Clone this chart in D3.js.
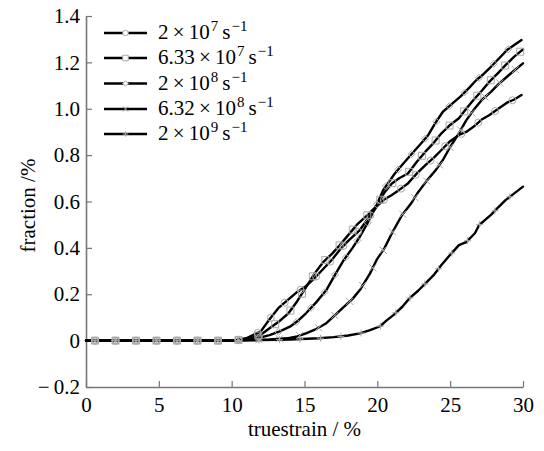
<!DOCTYPE html>
<html><head><meta charset="utf-8">
<script src="https://cdn.jsdelivr.net/npm/d3@7"></script>
<style>
html,body{margin:0;padding:0;background:#fff;}
svg{display:block;font-family:"Liberation Serif","Times New Roman",serif;}
</style></head>
<body><svg id="c" width="544" height="451"></svg>
<script>
// ---- data ----
const xTicks = [0,5,10,15,20,25,30];
const yTicks = [-0.2,0,0.2,0.4,0.6,0.8,1.0,1.2,1.4];
const yTickLabels = ["\u2212\u20090.2","0","0.2","0.4","0.6","0.8","1.0","1.2","1.4"];
const seriesNames = ["2\u2009\u00d7\u200910|7","6.33\u2009\u00d7\u200910|7","2\u2009\u00d7\u200910|8","6.32\u2009\u00d7\u200910|8","2\u2009\u00d7\u200910|9"];
const seriesMarkers = ["circle","square","diamond","x","plus"];

const s1x = [0,10,11,12,12.6,13.2,13.9,14.5,15.1,15.7,16.3,16.9,17.4,18.0,18.8,19.4,19.95,20.5,21.0,21.5,22.1,22.7,23.3,23.9,24.4,25.0,25.6,26.1,26.6,27.2,27.7,28.3,28.9,29.4,29.9];
const s1y = [0,0,0.01,0.04,0.092,0.14,0.178,0.21,0.235,0.27,0.31,0.35,0.39,0.43,0.477,0.53,0.577,0.61,0.628,0.65,0.678,0.72,0.757,0.79,0.822,0.86,0.887,0.90,0.922,0.955,0.973,1.0,1.026,1.04,1.059];

const s2x = [0,10,11,12,12.6,13.3,13.9,14.5,15.1,15.7,16.3,16.9,17.4,18.0,18.6,19.3,19.95,20.5,21.0,21.5,22.1,22.7,23.3,23.9,24.4,25.0,25.6,26.1,26.6,27.2,27.7,28.3,28.8,29.4,30];
const s2y = [0,0,0.005,0.025,0.053,0.085,0.118,0.17,0.23,0.29,0.34,0.375,0.41,0.455,0.50,0.54,0.58,0.64,0.678,0.70,0.721,0.77,0.815,0.855,0.894,0.93,0.959,1.0,1.038,1.08,1.117,1.155,1.188,1.225,1.256];

const s3x = [0,10,11,12,12.6,13.3,14.0,14.6,15.1,15.8,16.5,17.1,17.7,18.3,18.8,19.4,19.95,20.4,21.2,21.8,22.4,23.0,23.5,24.0,24.5,25.1,25.7,26.3,26.8,27.3,27.8,28.4,28.9,29.4,29.9];
const s3y = [0,0,0.005,0.014,0.024,0.04,0.06,0.088,0.118,0.165,0.218,0.285,0.348,0.40,0.448,0.515,0.585,0.649,0.721,0.765,0.808,0.85,0.887,0.94,0.987,1.02,1.052,1.09,1.124,1.15,1.181,1.22,1.253,1.275,1.296];

const s4x = [0,10,11,12.6,13.8,14.5,15.1,15.8,16.5,17.1,17.7,18.3,18.8,19.5,19.95,20.5,21.0,21.7,22.3,22.8,23.4,24.0,24.5,25.0,25.6,26.1,26.7,27.2,27.8,28.3,28.9,29.4,30];
const s4y = [0,0,0.002,0.005,0.01,0.018,0.031,0.05,0.075,0.11,0.146,0.18,0.218,0.29,0.348,0.40,0.463,0.542,0.59,0.64,0.69,0.735,0.779,0.835,0.894,0.95,1.002,1.04,1.073,1.105,1.138,1.165,1.196];

const s5x = [0,10,12,14,16,17,18,18.8,19.5,20.2,20.6,21.1,21.7,22.2,22.8,23.3,23.9,24.4,25.0,25.6,26.1,26.7,27.0,27.3,27.8,28.3,28.8,29.4,30];
const s5y = [0,0,0.002,0.005,0.01,0.015,0.022,0.031,0.045,0.062,0.085,0.11,0.145,0.182,0.215,0.247,0.285,0.326,0.37,0.412,0.425,0.463,0.50,0.515,0.542,0.575,0.606,0.635,0.664];

const seriesX = [s1x,s2x,s3x,s4x,s5x];
const seriesY = [s1y,s2y,s3y,s4y,s5y];

// ---- layout ----
const svg = d3.select("#c");
const W = 544, H = 451;
const m = {l:86, t:16, r:21, b:64};
const x = d3.scaleLinear().domain([0,30]).range([m.l, W-m.r]);
const y = d3.scaleLinear().domain([-0.2,1.4]).range([H-m.b, m.t]);
const axisColor = "#777";
const FS = 21;

// axes
const gx = svg.append("g").attr("transform",`translate(0,${y(-0.2)})`)
  .call(d3.axisBottom(x).tickValues(xTicks).tickSize(-6).tickSizeOuter(0).tickPadding(10).tickFormat(d3.format("d")));
const gy = svg.append("g").attr("transform",`translate(${x(0)},0)`)
  .call(d3.axisLeft(y).tickValues(yTicks).tickSize(-6).tickSizeOuter(0).tickPadding(6)
    .tickFormat((d,i)=>yTickLabels[i]));
[gx,gy].forEach(g=>{
  g.select(".domain").attr("stroke",axisColor).attr("stroke-width",1.6);
  g.selectAll(".tick line").attr("stroke",axisColor).attr("stroke-width",1.2);
  g.selectAll("text").attr("fill","#000").attr("font-size",FS).attr("font-family","Liberation Serif");
});

// axis titles
svg.append("text").attr("x",(x(0)+x(30))/2).attr("y",436).attr("text-anchor","middle")
  .attr("font-size",FS).text("truestrain / %");
svg.append("text").attr("transform",`translate(35,${(y(-0.2)+y(1.4))/2+4}) rotate(-90)`)
  .attr("text-anchor","middle").attr("font-size",FS).text("fraction /%");

// marker shapes
function markerPath(type, s){
  const h = s/2;
  switch(type){
    case "circle": return d3.symbol(d3.symbolCircle, Math.PI*h*h)();
    case "square": return `M${-h},${-h}H${h}V${h}H${-h}Z`;
    case "diamond": return `M0,${-h}L${h},0L0,${h}L${-h},0Z`;
    case "x": return `M${-h},${-h}L${h},${h}M${-h},${h}L${h},${-h}`;
    case "plus": return `M${-h},0H${h}M0,${-h}V${h}`;
  }
}
const markerColor = "#a8a8a8";

const line = d3.line().x(d=>x(d[0])).y(d=>y(d[1]));
const lineG = svg.append("g");
const markG = svg.append("g");
seriesX.forEach((xs,i)=>{
  const pts = xs.map((v,j)=>[v, seriesY[i][j]]);
  const p = lineG.append("path").attr("d",line(pts)).attr("fill","none")
    .attr("stroke","#000").attr("stroke-width",2.4).attr("stroke-linejoin","round").attr("stroke-linecap","round");
  const node = p.node(), L = node.getTotalLength();
  for(let l=9; l<=L; l+=20.5){
    const q = node.getPointAtLength(l);
    markG.append("path").attr("transform",`translate(${q.x},${q.y})`)
      .attr("d",markerPath(seriesMarkers[i],7)).attr("fill","none")
      .attr("stroke",markerColor).attr("stroke-width",1);
  }
});

// legend
const lg = svg.append("g");
const rowY = [33,58,83.5,109,134];
seriesNames.forEach((nm,i)=>{
  const yy = rowY[i];
  lg.append("line").attr("x1",104).attr("x2",147).attr("y1",yy).attr("y2",yy)
    .attr("stroke","#000").attr("stroke-width",2.6);
  lg.append("path").attr("transform",`translate(125.5,${yy})`).attr("d",markerPath(seriesMarkers[i],5.5))
    .attr("fill","#fff").attr("stroke",markerColor).attr("stroke-width",1);
  const [base, ex] = nm.split("|");
  const t = lg.append("text").attr("x",158).attr("y",yy+6).attr("font-size",FS);
  t.append("tspan").text(base);
  t.append("tspan").attr("font-size",15).attr("dy",-8).attr("dx",1).text(ex);
  t.append("tspan").attr("dy",8).attr("dx",4).text("s");
  t.append("tspan").attr("font-size",15).attr("dy",-8).attr("dx",1).text("\u22121");
});
</script></body></html>
